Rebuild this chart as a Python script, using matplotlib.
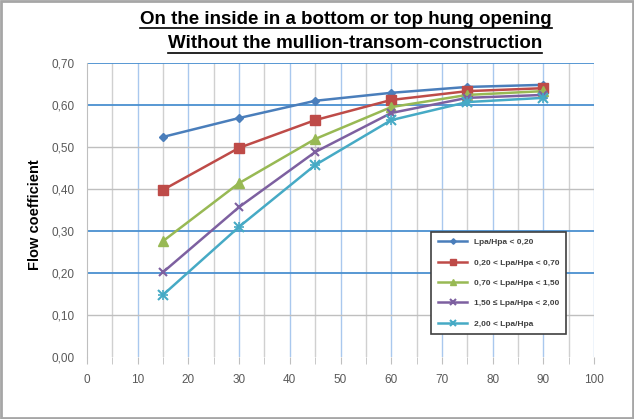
import numpy as np
from matplotlib import pyplot as plt
from matplotlib.lines import Line2D
from matplotlib.patches import Rectangle

angles = [15, 30, 45, 60, 75, 90]
labels = ["Lpa/Hpa < 0,20", "0,20 < Lpa/Hpa < 0,70", "0,70 < Lpa/Hpa < 1,50",
          "1,50 \u2264 Lpa/Hpa < 2,00", "2,00 < Lpa/Hpa"]
series = [
    [0.524, 0.569, 0.610, 0.629, 0.643, 0.648],
    [0.398, 0.498, 0.564, 0.612, 0.633, 0.640],
    [0.276, 0.414, 0.519, 0.595, 0.624, 0.633],
    [0.202, 0.357, 0.488, 0.581, 0.617, 0.624],
    [0.148, 0.310, 0.457, 0.564, 0.607, 0.617],
]
colors = ['#4a7ebb', '#be4b48', '#98b954', '#7d60a0', '#46aac5']
markers = ['D', 's', '^', 'x', 'x']
msizes = [4, 7, 7, 6, 7]
y_ticks = [0.0, 0.1, 0.2, 0.3, 0.4, 0.5, 0.6, 0.7]
blue_rows = [0.2, 0.3, 0.6, 0.7]

plt.rcParams['font.family'] = ['Liberation Sans', 'DejaVu Sans']

fig = plt.figure(figsize=(6.34, 4.19), dpi=100)
fig.patches.append(Rectangle((0.002, 0.003), 0.996, 0.994, transform=fig.transFigure,
                             fill=False, edgecolor='#a6a6a6', linewidth=2))
ax = fig.add_axes([87 / 634, 62 / 419, 507 / 634, 294 / 419])

# grid
for x in range(5, 101, 5):
    c = '#a9c8ee' if x % 10 == 0 else '#d0d0d0'
    ax.axvline(x, color=c, linewidth=1, zorder=0)
for y in y_ticks[1:]:
    if any(abs(y - b) < 1e-9 for b in blue_rows):
        ax.axhline(y, color='#4a90d0', linewidth=1.3, zorder=0)
    else:
        ax.axhline(y, color='#bfbfbf', linewidth=1, zorder=0)

for vals, lab, c, m, ms in zip(series, labels, colors, markers, msizes):
    mew = 1.5 if m == 'x' else 1
    ax.plot(angles, vals, color=c, marker=m, markersize=ms, linewidth=1.8,
            markeredgewidth=mew, label=lab, zorder=3)
    if c == '#46aac5':
        ax.plot(angles, vals, linestyle='none', marker='+', markersize=ms,
                color=c, markeredgewidth=1.2, zorder=3)

ax.set_xlim(0, 100)
ax.set_ylim(0, 0.7)
ax.set_xticks(range(0, 101, 10))
ax.set_xticks(range(5, 100, 10), minor=True)
ax.set_yticks(y_ticks)
ax.set_yticklabels([f"{v:.2f}".replace('.', ',') for v in y_ticks])
for s in ['top', 'right', 'bottom']:
    ax.spines[s].set_visible(False)
ax.spines['left'].set_color('#bfbfbf')
ax.tick_params(axis='both', which='both', colors='#bfbfbf', labelcolor='#595959',
               labelsize=8.5, length=5)
ax.tick_params(axis='y', length=0, pad=9)
ax.tick_params(axis='x', pad=7)

fig.text(35 / 634, 1 - 215 / 419, 'Flow coefficient', rotation=90, fontsize=10.5,
         fontweight='bold', ha='center', va='center')

leg = ax.legend(loc='upper left', bbox_to_anchor=(0.671, 0.44), fontsize=6,
                frameon=True, fancybox=False, edgecolor='#404040', framealpha=1,
                handlelength=3.5, labelspacing=1.5, borderpad=0.8, markerscale=0.7)
leg.get_frame().set_linewidth(1.2)
for t in leg.get_texts():
    t.set_color('#404040')
    t.set_fontweight('bold')

titles = [("On the inside in a bottom or top hung opening", 346, 19),
          ("Without the mullion-transom-construction", 355, 44)]
fig.canvas.draw()
renderer = fig.canvas.get_renderer()
for txt, px, py in titles:
    t = fig.text(px / 634, 1 - py / 419, txt, fontsize=13.5, fontweight='bold',
                 ha='center', va='center')
    bb = t.get_window_extent(renderer)
    fy = (bb.y0 - 1) / 419
    fig.lines.append(Line2D([bb.x0 / 634, bb.x1 / 634], [fy, fy],
                            transform=fig.transFigure, color='black', linewidth=1.2))

fig.savefig('out.png', dpi=100)
